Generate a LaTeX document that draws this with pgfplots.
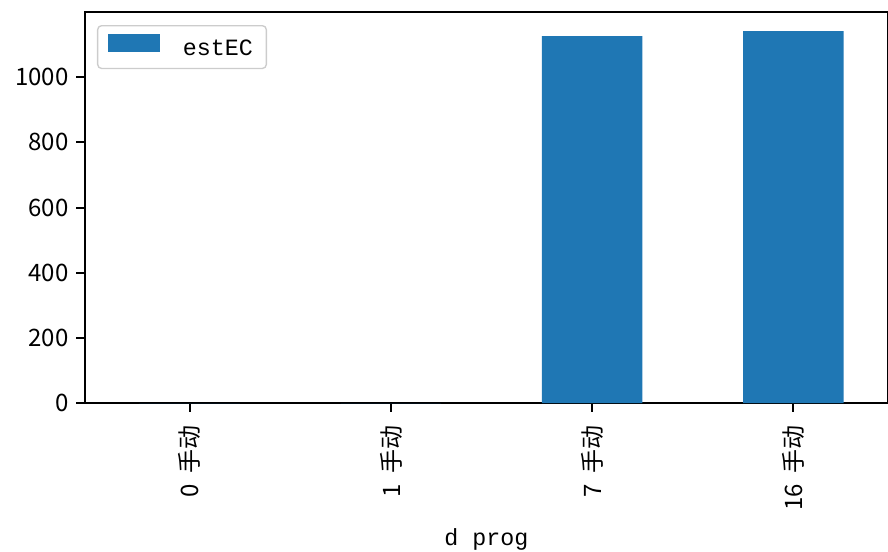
\documentclass[border=0pt]{standalone}
\usepackage{fontspec}
\setmainfont{Noto Sans CJK SC}
\newfontfamily\monofont{Liberation Mono}
\usepackage{pgfplots}
\pgfplotsset{compat=1.18}
\definecolor{mplblue}{HTML}{1F77B4}

\begin{document}
\begin{tikzpicture}
\begin{axis}[
    width=602.25pt, height=293.25pt,
    scale only axis,
    ybar, bar width=0.5,
    xmin=-0.52, xmax=3.47,
    ymin=0, ymax=1200,
    xtick={0,1,2,3},
    xticklabels={0\hspace{0.45em}手动, 1\hspace{0.45em}手动, 7\hspace{0.45em}手动, 16\hspace{0.45em}手动},
    xticklabel style={rotate=90, anchor=east, inner sep=0pt, outer sep=10pt},
    yticklabel style={inner sep=0pt, outer sep=6pt},
    ytick={0,200,400,600,800,1000},
    tick align=outside,
    major tick length=6.5pt,
    xtick pos=bottom, ytick pos=left,
    tick style={black, line width=1.5pt},
    axis line style={line width=1.5pt},
    /pgf/number format/assume math mode=true,
    /pgf/number format/1000 sep={},
    tick label style={font=\fontsize{18}{20}\selectfont},
    xlabel={\monofont d prog},
    xlabel style={font=\fontsize{17.5}{20}\selectfont, yshift=-10pt},
    legend style={at={(axis description cs:0,1)}, xshift=9pt, yshift=-9.75pt,
        anchor=north west, draw=black!20, line width=1pt,
        rounded corners=3pt, font=\fontsize{17.5}{20}\selectfont\monofont,
        inner xsep=8pt, inner ysep=6.5pt, column sep=15pt},
    legend image code/.code={\fill[mplblue, sharp corners] (0pt,-3pt) rectangle (39pt,10.5pt);},
]
\addplot[fill=mplblue, draw=none] coordinates {(0,0) (1,0) (2,1126) (3,1141)};
\addlegendentry{estEC}
\end{axis}
\pgfresetboundingbox
\path[use as bounding box] (-63.75pt,-111pt) rectangle (602.25pt,302.25pt);
\end{tikzpicture}
\end{document}
